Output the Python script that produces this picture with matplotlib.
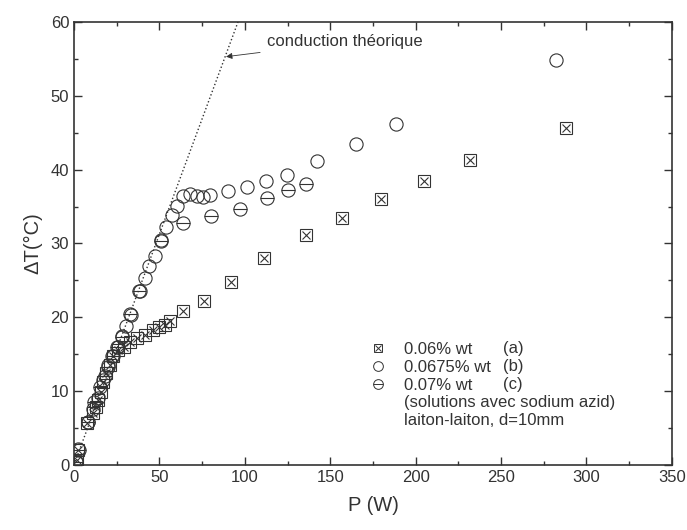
import matplotlib
matplotlib.use("Agg")
import matplotlib.pyplot as plt
from matplotlib.lines import Line2D
from matplotlib.ticker import MultipleLocator

plt.rcParams['font.family'] = ['Liberation Sans', 'DejaVu Sans']

# (a) 0.06% wt
p_a = [1.5, 2.5, 7.5, 11, 13, 14, 16, 17, 19, 21, 23, 26, 29.5, 33, 37, 41.5,
       46, 50, 53, 56, 64, 76, 92, 111, 136, 157, 180, 205, 232, 288]
dt_a = [0.7, 2.0, 5.6, 7.0, 7.9, 8.8, 9.9, 11.2, 12.5, 13.5, 14.7, 15.6, 16.0,
        16.7, 17.2, 17.6, 18.3, 18.7, 19.0, 19.5, 20.8, 22.2, 24.8, 28.0, 31.1,
        33.5, 36.0, 38.5, 41.3, 45.6]

# (b) 0.0675% wt
p_b = [1, 2.5, 8, 11, 14, 17, 20, 22.5, 26, 28, 30.5, 33.5, 38.5, 41.5, 44,
       47.5, 51, 54, 57.5, 60.5, 64, 68, 72, 75.5, 79.5, 90, 101, 112.5, 124.5,
       142.5, 165, 188.5, 282]
dt_b = [0.5, 2.1, 5.8, 7.5, 9.0, 11.5, 13.5, 14.8, 16.0, 17.4, 18.8, 20.3,
        23.5, 25.3, 27.0, 28.3, 30.5, 32.2, 33.8, 35.1, 36.4, 36.7, 36.4, 36.3,
        36.5, 37.1, 37.7, 38.4, 39.3, 41.1, 43.5, 46.2, 54.8]

# (c) 0.07% wt
p_c = [1, 3, 8, 12, 15, 18, 20, 23, 25, 28, 32.5, 38, 51, 64, 80, 97, 113, 125, 136]
dt_c = [0.4, 2.0, 5.8, 8.5, 10.5, 12.0, 13.2, 14.8, 16.0, 17.3, 20.5, 23.6,
        30.3, 32.8, 33.7, 34.7, 36.2, 37.2, 38.0]

# conduction theorique
p_th = [0, 96]
dt_th = [0, 60]

col = '#333333'
fig = plt.figure(figsize=(6.87, 5.30), dpi=100)
ax = fig.add_axes([0.1077, 0.123, 0.8703, 0.8355])

ax.plot(p_th, dt_th, ls=':', color=col, lw=1.0)

ax.plot(p_a, dt_a, ls='none', marker='s', ms=8, mfc='none', mec=col, mew=0.8)
ax.plot(p_a, dt_a, ls='none', marker='x', ms=6, mec=col, mew=0.8)
ax.plot(p_b, dt_b, ls='none', marker='o', ms=9.5, mfc='none', mec=col, mew=0.8)
ax.plot(p_c, dt_c, ls='none', marker='o', ms=9.5, mfc='none', mec=col, mew=0.8)
ax.plot(p_c, dt_c, ls='none', marker='_', ms=9.5, mec=col, mew=0.8)

ax.annotate('conduction théorique', xy=(89, 55.3), xytext=(113, 57.3),
            fontsize=12, color=col, va='center',
            arrowprops=dict(arrowstyle='-|>', color=col, lw=0.6,
                            mutation_scale=9, shrinkA=3, shrinkB=0))

# legend
h_a = (Line2D([], [], ls='none', marker='s', ms=6, mfc='none', mec=col, mew=0.7),
       Line2D([], [], ls='none', marker='x', ms=4.5, mec=col, mew=0.7))
h_b = Line2D([], [], ls='none', marker='o', ms=7, mfc='none', mec=col, mew=0.7)
h_c = (Line2D([], [], ls='none', marker='o', ms=7, mfc='none', mec=col, mew=0.7),
       Line2D([], [], ls='none', marker='_', ms=7, mec=col, mew=0.7))
blank = Line2D([], [], ls='none')
leg = ax.legend([h_a, h_b, h_c, blank, blank],
                ['0.06% wt', '0.0675% wt', '0.07% wt',
                 '(solutions avec sodium azid)', 'laiton-laiton, d=10mm'],
                loc='upper left', bbox_to_anchor=(0.483, 0.293), frameon=False,
                fontsize=12, handlelength=1.0, handletextpad=1.1,
                labelspacing=0.175, borderaxespad=0, labelcolor=col)
for lab, yy in zip(['(a)', '(b)', '(c)'], [15.7, 13.3, 10.9]):
    ax.text(251, yy, lab, fontsize=12, color=col, va='center')

ax.set_xlim(0, 350)
ax.set_ylim(0, 60)
ax.xaxis.set_major_locator(MultipleLocator(50))
ax.xaxis.set_minor_locator(MultipleLocator(25))
ax.yaxis.set_major_locator(MultipleLocator(10))
ax.yaxis.set_minor_locator(MultipleLocator(5))
ax.tick_params(which='both', direction='in', top=True, right=True,
               colors=col, labelsize=12, width=1.0)
ax.tick_params(which='major', length=6)
ax.tick_params(which='minor', length=3)
for s in ax.spines.values():
    s.set_color(col)
    s.set_linewidth(1.2)

ax.set_xlabel('P (W)', fontsize=14.5, color=col, labelpad=8)
ax.set_ylabel('ΔT(°C)', fontsize=14.5, color=col, labelpad=6)

fig.savefig('out.png', dpi=100)
